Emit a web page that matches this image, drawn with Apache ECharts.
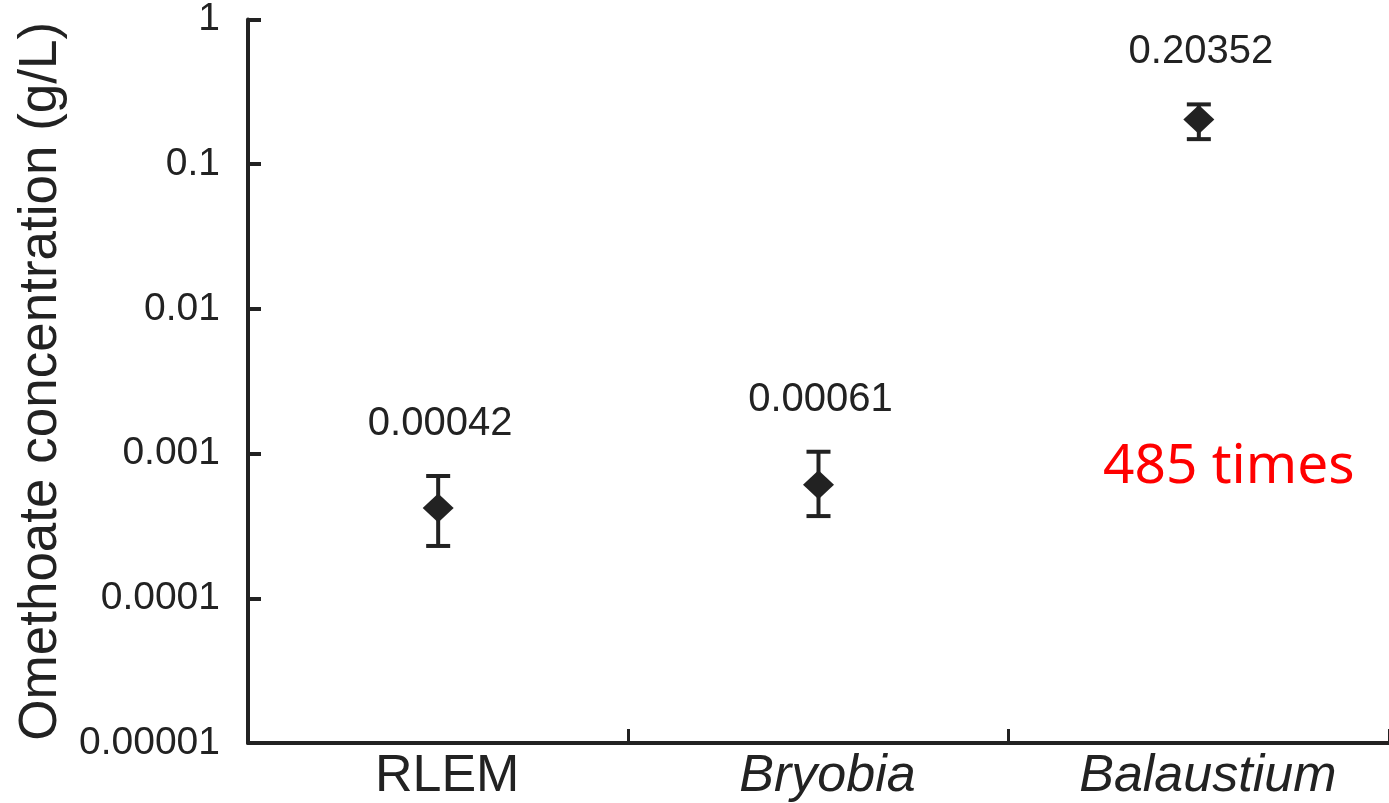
<!DOCTYPE html>
<html>
<head>
<meta charset="utf-8">
<script src="https://cdn.jsdelivr.net/npm/echarts@6/dist/echarts.min.js"></script>
<style>
html,body{margin:0;padding:0;background:#fff;}
#main{width:1389px;height:803px;}
</style>
</head>
<body>
<div id="main"></div>
<script>
// 数据
var categories = ['RLEM', 'Bryobia', 'Balaustium'];
var italicCats = [false, true, true];
var means = [0.00042, 0.00061, 0.20352];
var lows = [0.00023, 0.00037, 0.149];
var highs = [0.0007, 0.00103, 0.259];
var valueLabels = ['0.00042', '0.00061', '0.20352'];
var yTickLabels = ['0.00001', '0.0001', '0.001', '0.01', '0.1', '1'];

var ink = '#222';
var font = '"Liberation Sans", Arial, Helvetica, sans-serif';

var chart = echarts.init(document.getElementById('main'));

var errData = [];
for (var i = 0; i < categories.length; i++) {
	errData.push([i, lows[i], highs[i], valueLabels[i]]);
}

var option = {
	animation: false,
	grid: {left: 248, right: -8, top: 18, bottom: 60, containLabel: false},
	xAxis: {
		type: 'category',
		data: categories,
		boundaryGap: true,
		axisLine: {lineStyle: {color: ink, width: 4}},
		axisTick: {show: true, inside: true, interval: 0, length: 14, lineStyle: {color: ink, width: 3}},
		axisLabel: {
			interval: 0,
			hideOverlap: false,
			margin: 8,
			padding: [0, 0, 0, 18],
			fontFamily: font,
			fontSize: 52,
			color: ink,
			formatter: function (v, idx) {
				return italicCats[idx] ? '{it|' + v + '}' : '{n|' + v + '}';
			},
			rich: {
				n: {fontFamily: font, fontSize: 52, color: ink},
				it: {fontFamily: font, fontSize: 52, color: ink, fontStyle: 'italic'}
			}
		},
		splitLine: {show: false}
	},
	yAxis: {
		type: 'log',
		logBase: 10,
		min: 0.00001,
		max: 1,
		name: 'Omethoate concentration (g/L)',
		nameLocation: 'middle',
		nameGap: 180,
		nameTextStyle: {fontFamily: font, fontSize: 53, color: ink},
		axisLine: {show: true, lineStyle: {color: ink, width: 4}},
		axisTick: {show: true, inside: true, length: 13, lineStyle: {color: ink, width: 4}},
		axisLabel: {
			margin: 28,
			padding: [10, 0, 0, 0],
			fontFamily: font,
			fontSize: 39,
			color: ink,
			formatter: function (v) {
				var k = Math.round(Math.log(v) / Math.LN10) + 5;
				return yTickLabels[k] || '';
			}
		},
		splitLine: {show: false},
		minorTick: {show: false}
	},
	series: [
		{
			type: 'custom',
			name: 'error',
			data: errData,
			z: 3,
			renderItem: function (params, api) {
				var x = api.coord([api.value(0), api.value(1)])[0];
				var yLo = api.coord([api.value(0), api.value(1)])[1];
				var yHi = api.coord([api.value(0), api.value(2)])[1];
				var hw = 12;
				var st = {stroke: ink, lineWidth: 4};
				return {
					type: 'group',
					children: [
						{type: 'line', shape: {x1: x, y1: yHi, x2: x, y2: yLo}, style: st},
						{type: 'line', shape: {x1: x - hw, y1: yHi, x2: x + hw, y2: yHi}, style: st},
						{type: 'line', shape: {x1: x - hw, y1: yLo, x2: x + hw, y2: yLo}, style: st},
						{type: 'text', x: x + 2, y: yHi - 52, style: {
							text: valueLabels[params.dataIndex],
							fill: ink,
							font: '40px ' + font,
							textAlign: 'center',
							textVerticalAlign: 'middle'
						}}
					]
				};
			}
		},
		{
			type: 'scatter',
			name: 'mean',
			data: means,
			symbol: 'diamond',
			symbolSize: [31, 29],
			itemStyle: {color: ink, opacity: 1},
			z: 4
		}
	],
	graphic: [
		{
			type: 'text',
			left: 1103,
			top: 440,
			style: {
				text: '485 times',
				fill: '#ff0000',
				font: '55px "Noto Sans", "Open Sans", sans-serif'
			}
		}
	]
};
chart.setOption(option);
</script>
</body>
</html>
